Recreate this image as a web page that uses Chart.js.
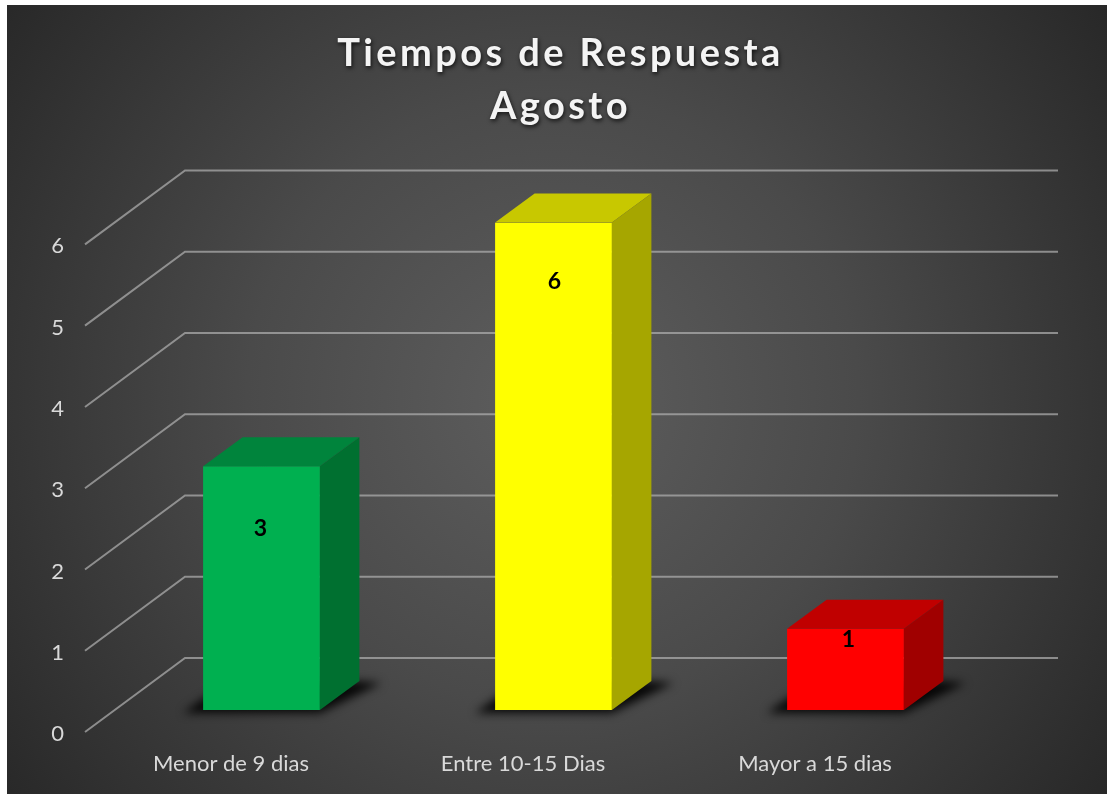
<!DOCTYPE html>
<html>
<head>
<meta charset="utf-8">
<style>html,body{margin:0;padding:0;background:#fff}canvas{display:block}</style>
<script src="https://cdn.jsdelivr.net/npm/chart.js@4"></script>
</head>
<body>
<canvas id="c" width="1107" height="794"></canvas>
<script>
const titleLines = ['Tiempos de Respuesta', 'Agosto'];
const categories = ['Menor de 9 dias', 'Entre 10-15 Dias', 'Mayor a 15 dias'];
const values = [3, 6, 1];
const frontColors = ['#00B050', '#FFFF00', '#FF0000'];
const topColors = ['#00843C', '#C8C800', '#C00000'];
const sideColors = ['#007030', '#A6A600', '#A00000'];
const labelDrops = [62, 59, 11];

const FONT = 'Lato';
const barShift = {x: 30.5, y: -22};
const barDepth = {x: 39.5, y: -29};
const wallDepth = {x: 100, y: -74};

const threeD = {
  id: 'threeD',
  beforeDraw(chart) {
    const {ctx} = chart;
    ctx.save();
    const g = ctx.createRadialGradient(553, 400, 0, 553, 400, 680);
    g.addColorStop(0, '#5e5e5e');
    g.addColorStop(0.45, '#4a4a4a');
    g.addColorStop(1, '#282828');
    ctx.fillStyle = g;
    ctx.fillRect(7, 5, 1100, 789);
    ctx.restore();
    const t = chart.titleBlock;
    if (t && !t.__wrapped) {
      const orig = t.draw.bind(t);
      t.draw = function () {
        const c = t.ctx;
        c.save();
        c.letterSpacing = '3.4px';
        c.shadowColor = 'rgba(0,0,0,0.75)';
        c.shadowBlur = 4;
        c.shadowOffsetX = 1;
        c.shadowOffsetY = 2;
        orig();
        c.restore();
      };
      t.__wrapped = true;
    }
  },
  beforeDatasetsDraw(chart) {
    const {ctx, chartArea} = chart;
    const yS = chart.scales.y;
    ctx.save();
    ctx.strokeStyle = 'rgba(175,175,175,0.72)';
    ctx.lineWidth = 2;
    ctx.lineCap = 'butt';
    yS.ticks.forEach(t => {
      const y = yS.getPixelForValue(t.value);
      ctx.beginPath();
      ctx.moveTo(chartArea.left, y);
      ctx.lineTo(chartArea.left + wallDepth.x, y + wallDepth.y);
      ctx.lineTo(chartArea.right + wallDepth.x - 3, y + wallDepth.y);
      ctx.stroke();
    });
    ctx.restore();

    const bars = chart.getDatasetMeta(0).data;
    ctx.save();
    ctx.filter = 'blur(5px)';
    ctx.fillStyle = 'rgba(0,0,0,0.9)';
    bars.forEach(b => {
      const l = b.x + barShift.x - b.width / 2;
      const r = b.x + barShift.x + b.width / 2;
      const base = b.base + barShift.y;
      ctx.beginPath();
      ctx.moveTo(l - 20, base + 3);
      ctx.lineTo(r, base + 3);
      ctx.lineTo(r + barDepth.x + 22, base + barDepth.y + 2);
      ctx.lineTo(r + barDepth.x - 4, base + barDepth.y);
      ctx.lineTo(l + 4, base - 14);
      ctx.closePath();
      ctx.fill();
    });
    ctx.restore();

    ctx.save();
    ctx.translate(barShift.x, barShift.y);
  },
  afterDatasetsDraw(chart) {
    const {ctx} = chart;
    const bars = chart.getDatasetMeta(0).data;
    bars.forEach((b, i) => {
      const l = b.x - b.width / 2, r = b.x + b.width / 2, top = b.y, base = b.base;
      ctx.fillStyle = topColors[i];
      ctx.beginPath();
      ctx.moveTo(l, top);
      ctx.lineTo(l + barDepth.x, top + barDepth.y);
      ctx.lineTo(r + barDepth.x, top + barDepth.y);
      ctx.lineTo(r, top);
      ctx.closePath();
      ctx.fill();
      ctx.fillStyle = sideColors[i];
      ctx.beginPath();
      ctx.moveTo(r, top);
      ctx.lineTo(r + barDepth.x, top + barDepth.y);
      ctx.lineTo(r + barDepth.x, base + barDepth.y);
      ctx.lineTo(r, base);
      ctx.closePath();
      ctx.fill();
    });
    ctx.restore();

    ctx.save();
    ctx.fillStyle = '#000';
    ctx.font = 'bold 23px ' + FONT;
    ctx.textAlign = 'center';
    ctx.textBaseline = 'middle';
    bars.forEach((b, i) => {
      ctx.fillText(String(values[i]), b.x + barShift.x + (i === 0 ? -1 : i === 1 ? 1 : 3), b.y + barShift.y + labelDrops[i]);
    });
    ctx.restore();
  }
};

new Chart(document.getElementById('c'), {
  type: 'bar',
  data: {
    labels: categories,
    datasets: [{
      data: values,
      backgroundColor: frontColors,
      borderWidth: 0,
      barPercentage: 0.4,
      categoryPercentage: 1
    }]
  },
  plugins: [threeD],
  options: {
    responsive: false,
    animation: false,
    layout: {padding: {left: 14, right: 0, top: 0, bottom: 0}},
    plugins: {
      legend: {display: false},
      tooltip: {enabled: false},
      title: {
        display: true,
        text: titleLines,
        color: '#f4f4f4',
        font: {family: FONT, size: 38, weight: 'bold', lineHeight: 1.4},
        padding: {top: 27, bottom: 111}
      }
    },
    scales: {
      x: {
        grid: {display: false},
        border: {display: false},
        ticks: {color: '#d9d9d9', font: {family: FONT, size: 22}, padding: 11, maxRotation: 0},
        afterFit(s) { s.height = 62; }
      },
      y: {
        min: 0,
        max: 6,
        grid: {display: false},
        border: {display: false},
        ticks: {color: '#d9d9d9', font: {family: FONT, size: 22}, stepSize: 1, padding: 13, labelOffset: 2},
        afterFit(s) { s.width = 71; }
      },
      spacer: {
        position: 'right',
        display: true,
        grid: {display: false},
        border: {display: false},
        ticks: {display: false},
        afterFit(s) { s.width = 146; }
      }
    }
  }
});
</script>
</body>
</html>
